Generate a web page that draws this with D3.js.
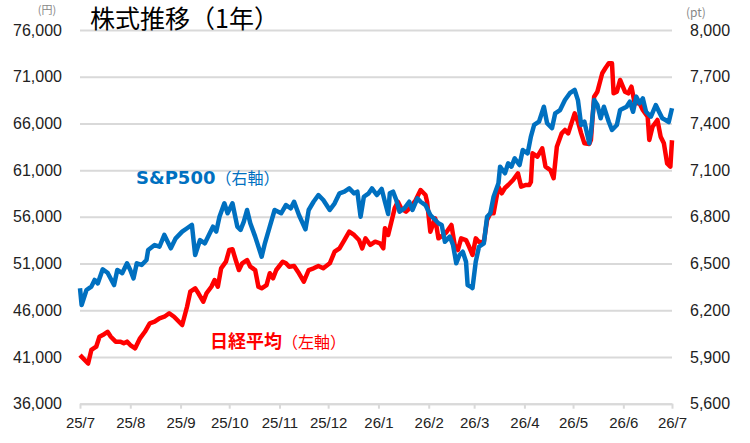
<!DOCTYPE html>
<html>
<head>
<meta charset="utf-8">
<script src="https://cdn.jsdelivr.net/npm/d3@7"></script>
<style>
  body { margin: 0; background: #fff; }
  svg { display: block; }
  .tick text { font-family: "Liberation Sans", Arial, sans-serif; fill: #222; }
</style>
</head>
<body>
<svg id="chart"></svg>
<script>
// 日経平均 (円)
const nikkei = [
  ["2025-07-01",41200],["2025-07-06",40300],["2025-07-08",41750],["2025-07-11",42100],
  ["2025-07-13",43170],["2025-07-15",43350],["2025-07-18",43700],["2025-07-20",43170],
  ["2025-07-23",42640],["2025-07-26",42640],["2025-07-28",42460],["2025-07-30",42640],
  ["2025-08-01",42280],["2025-08-04",41930],["2025-08-07",43000],["2025-08-10",43700],
  ["2025-08-13",44600],["2025-08-16",44780],["2025-08-19",45140],["2025-08-22",45310],
  ["2025-08-25",45680],["2025-08-28",45310],["2025-09-02",44420],["2025-09-05",46380],
  ["2025-09-07",47990],["2025-09-10",48350],["2025-09-12",47820],["2025-09-15",46920],
  ["2025-09-17",47820],["2025-09-20",48520],["2025-09-22",49240],["2025-09-24",48520],
  ["2025-09-26",50490],["2025-09-29",51200],["2025-10-01",52450],["2025-10-03",52530],
  ["2025-10-05",51380],["2025-10-07",50310],["2025-10-09",51030],["2025-10-12",51380],
  ["2025-10-14",50660],["2025-10-17",50310],["2025-10-19",48520],["2025-10-21",48350],
  ["2025-10-24",48700],["2025-10-26",49960],["2025-10-28",49420],["2025-10-30",50310],
  ["2025-11-03",51200],["2025-11-05",51030],["2025-11-07",50660],["2025-11-10",50740],
  ["2025-11-13",49960],["2025-11-16",49060],["2025-11-19",50310],["2025-11-22",50490],
  ["2025-11-25",50740],["2025-11-28",50490],["2025-12-02",51030],["2025-12-05",52270],
  ["2025-12-08",52630],["2025-12-11",53520],["2025-12-14",54410],["2025-12-17",54060],
  ["2025-12-20",53520],["2025-12-22",52630],["2025-12-24",53700],["2025-12-27",52990],
  ["2025-12-30",53340],["2026-01-02",53170],["2026-01-04",52630],["2026-01-05",54770],
  ["2026-01-07",54060],["2026-01-09",55480],["2026-01-11",56910],["2026-01-13",57620],
  ["2026-01-15",56910],["2026-01-18",56550],["2026-01-21",57050],["2026-01-24",57800],
  ["2026-01-27",58870],["2026-01-30",58340],["2026-01-31",57620],["2026-02-02",54410],
  ["2026-02-05",55840],["2026-02-07",53700],["2026-02-10",54060],["2026-02-12",54380],
  ["2026-02-15",55130],["2026-02-17",52990],["2026-02-19",52450],["2026-02-21",53700],
  ["2026-02-24",53520],["2026-02-26",52770],["2026-02-28",51920],["2026-03-02",53700],
  ["2026-03-04",53310],["2026-03-07",53310],["2026-03-09",55660],["2026-03-11",56380],
  ["2026-03-13",56380],["2026-03-16",59230],["2026-03-18",58520],["2026-03-20",59090],
  ["2026-03-22",59410],["2026-03-25",59940],["2026-03-28",60660],["2026-03-30",59230],
  ["2026-04-02",59410],["2026-04-04",59410],["2026-04-05",59730],["2026-04-06",62800],
  ["2026-04-09",62440],["2026-04-12",63340],["2026-04-14",61370],["2026-04-17",61010],
  ["2026-04-19",60130],["2026-04-21",63510],["2026-04-24",64940],["2026-04-26",65300],
  ["2026-04-28",64940],["2026-05-02",67080],["2026-05-04",66180],["2026-05-06",64940],
  ["2026-05-08",63870],["2026-05-11",63800],["2026-05-12",64230],["2026-05-14",68860],
  ["2026-05-16",69400],["2026-05-19",71370],["2026-05-21",71930],["2026-05-23",72440],
  ["2026-05-25",72440],["2026-05-26",69220],["2026-05-28",69400],["2026-05-30",70650],
  ["2026-06-02",69400],["2026-06-04",69220],["2026-06-06",69930],["2026-06-08",68150],
  ["2026-06-11",68150],["2026-06-13",67440],["2026-06-16",66720],["2026-06-17",64230],
  ["2026-06-19",65650],["2026-06-22",66370],["2026-06-24",64580],["2026-06-26",63870],
  ["2026-06-28",61730],["2026-06-30",61370],["2026-07-01",64200]
];

// S&P500 (pt)
const sp500 = [
  ["2025-07-01",6341],["2025-07-02",6234],["2025-07-05",6330],["2025-07-08",6352],
  ["2025-07-10",6395],["2025-07-12",6373],["2025-07-15",6463],["2025-07-18",6441],
  ["2025-07-22",6362],["2025-07-24",6459],["2025-07-27",6438],["2025-07-30",6502],
  ["2025-08-01",6459],["2025-08-03",6405],["2025-08-05",6502],["2025-08-08",6491],
  ["2025-08-11",6523],["2025-08-12",6587],["2025-08-16",6619],["2025-08-19",6608],
  ["2025-08-22",6684],["2025-08-26",6598],["2025-08-29",6662],["2025-09-02",6705],
  ["2025-09-05",6727],["2025-09-08",6748],["2025-09-10",6555],["2025-09-13",6651],
  ["2025-09-16",6630],["2025-09-19",6694],["2025-09-21",6737],["2025-09-23",6705],
  ["2025-09-25",6801],["2025-09-28",6887],["2025-09-30",6823],["2025-10-03",6887],
  ["2025-10-06",6737],["2025-10-08",6716],["2025-10-10",6769],["2025-10-12",6844],
  ["2025-10-14",6759],["2025-10-17",6673],["2025-10-21",6544],["2025-10-23",6630],
  ["2025-10-26",6737],["2025-10-29",6844],["2025-11-02",6823],["2025-11-05",6876],
  ["2025-11-08",6855],["2025-11-10",6897],["2025-11-13",6812],["2025-11-17",6720],
  ["2025-11-19",6844],["2025-11-22",6897],["2025-11-25",6940],["2025-11-28",6908],
  ["2025-12-02",6844],["2025-12-05",6887],["2025-12-08",6951],["2025-12-11",6962],
  ["2025-12-14",6983],["2025-12-17",6951],["2025-12-19",6962],["2025-12-21",6801],
  ["2025-12-23",6929],["2025-12-26",6951],["2025-12-28",6983],["2025-12-31",6940],
  ["2026-01-03",6979],["2026-01-05",6897],["2026-01-07",6818],["2026-01-08",6951],
  ["2026-01-10",6962],["2026-01-12",6908],["2026-01-14",6833],["2026-01-17",6855],
  ["2026-01-20",6897],["2026-01-22",6844],["2026-01-25",6919],["2026-01-27",6897],
  ["2026-01-30",6876],["2026-02-02",6812],["2026-02-04",6791],["2026-02-07",6759],
  ["2026-02-09",6748],["2026-02-11",6640],["2026-02-14",6673],["2026-02-16",6619],
  ["2026-02-18",6502],["2026-02-20",6555],["2026-02-22",6576],["2026-02-24",6512],
  ["2026-02-25",6362],["2026-02-27",6350],["2026-02-28",6343],["2026-03-02",6512],
  ["2026-03-04",6608],["2026-03-07",6630],["2026-03-09",6801],["2026-03-11",6823],
  ["2026-03-13",6929],["2026-03-16",7016],["2026-03-17",7122],["2026-03-20",7080],
  ["2026-03-22",7144],["2026-03-24",7122],["2026-03-26",7176],["2026-03-29",7133],
  ["2026-03-31",7229],["2026-04-03",7208],["2026-04-05",7315],["2026-04-07",7390],
  ["2026-04-10",7411],["2026-04-13",7507],["2026-04-15",7401],["2026-04-18",7369],
  ["2026-04-20",7465],["2026-04-23",7486],["2026-04-26",7550],["2026-04-29",7594],
  ["2026-05-02",7615],["2026-05-04",7550],["2026-05-06",7390],["2026-05-08",7411],
  ["2026-05-11",7272],["2026-05-12",7337],["2026-05-14",7550],["2026-05-16",7518],
  ["2026-05-18",7433],["2026-05-20",7507],["2026-05-23",7411],["2026-05-25",7358],
  ["2026-05-28",7390],["2026-05-30",7486],["2026-06-03",7507],["2026-06-05",7540],
  ["2026-06-07",7475],["2026-06-09",7572],["2026-06-11",7529],["2026-06-13",7561],
  ["2026-06-15",7475],["2026-06-18",7443],["2026-06-21",7518],["2026-06-23",7475],
  ["2026-06-25",7433],["2026-06-27",7422],["2026-06-29",7409],["2026-07-01",7497]
];

const monthTicks = ["2025-07-01","2025-08-01","2025-09-01","2025-10-01","2025-11-01",
  "2025-12-01","2026-01-01","2026-02-01","2026-03-01","2026-04-01","2026-05-01",
  "2026-06-01","2026-07-01"];
const leftTicks = [36000, 41000, 46000, 51000, 56000, 61000, 66000, 71000, 76000];
const rightTicks = [5600, 5900, 6200, 6500, 6800, 7100, 7400, 7700, 8000];

const width = 750, height = 443;
const margin = {top: 30, right: 78, bottom: 39.3, left: 80};
const parse = d3.timeParse("%Y-%m-%d");

const svg = d3.select("#chart")
    .attr("width", width)
    .attr("height", height);

const x = d3.scaleTime()
    .domain([parse(monthTicks[0]), parse(monthTicks[monthTicks.length - 1])])
    .range([margin.left, width - margin.right]);

const yLeft = d3.scaleLinear()
    .domain([leftTicks[0], leftTicks[leftTicks.length - 1]])
    .range([height - margin.bottom, margin.top]);

const yRight = d3.scaleLinear()
    .domain([rightTicks[0], rightTicks[rightTicks.length - 1]])
    .range([height - margin.bottom, margin.top]);

const gridColor = "#d9d9d9";

// gridlines
svg.append("g")
    .attr("transform", `translate(${margin.left},0)`)
    .call(d3.axisLeft(yLeft).tickValues(leftTicks)
        .tickSize(-(width - margin.left - margin.right)).tickFormat(""))
    .call(g => g.select(".domain").remove())
    .call(g => g.selectAll("line").attr("stroke", gridColor).attr("stroke-width", 2));

// x axis
svg.append("g")
    .attr("transform", `translate(0,${height - margin.bottom})`)
    .call(d3.axisBottom(x).tickValues(monthTicks.map(parse))
        .tickFormat(d3.timeFormat("%y/%-m")).tickSize(5).tickSizeOuter(0).tickPadding(9))
    .call(g => g.select(".domain").attr("stroke", gridColor).attr("stroke-width", 2))
    .call(g => g.selectAll(".tick line").attr("stroke", gridColor).attr("stroke-width", 2))
    .call(g => g.selectAll("text").attr("font-size", 15));

// left labels
svg.append("g")
    .attr("transform", `translate(${margin.left},0)`)
    .call(d3.axisLeft(yLeft).tickValues(leftTicks).tickSize(0).tickPadding(18)
        .tickFormat(d3.format(",")))
    .call(g => g.select(".domain").remove())
    .call(g => g.selectAll("text").attr("font-size", 16));

// right labels
svg.append("g")
    .attr("transform", `translate(${width - margin.right},0)`)
    .call(d3.axisRight(yRight).tickValues(rightTicks).tickSize(0).tickPadding(18)
        .tickFormat(d3.format(",")))
    .call(g => g.select(".domain").remove())
    .call(g => g.selectAll("text").attr("font-size", 16));

// lines
const lineLeft = d3.line()
    .x(d => x(parse(d[0])))
    .y(d => yLeft(d[1]));

const lineRight = d3.line()
    .x(d => x(parse(d[0])))
    .y(d => yRight(d[1]));

svg.append("path")
    .datum(nikkei)
    .attr("d", lineLeft)
    .attr("fill", "none")
    .attr("stroke", "#ff0000")
    .attr("stroke-width", 4.5)
    .attr("stroke-linejoin", "round");

svg.append("path")
    .datum(sp500)
    .attr("d", lineRight)
    .attr("fill", "none")
    .attr("stroke", "#0070c0")
    .attr("stroke-width", 4.5)
    .attr("stroke-linejoin", "round");

const cjk = "'Noto Sans CJK JP', 'Noto Sans', sans-serif";

// title
svg.append("text")
    .attr("x", 90).attr("y", 28)
    .attr("font-family", cjk)
    .attr("font-size", 25)
    .attr("fill", "#000")
    .text("株式推移（1年）");

// units
svg.append("text")
    .attr("x", 47).attr("y", 14)
    .attr("text-anchor", "middle")
    .attr("font-family", cjk)
    .attr("font-size", 11)
    .attr("fill", "#888")
    .text("(円)");

svg.append("text")
    .attr("x", 696).attr("y", 17)
    .attr("text-anchor", "middle")
    .attr("font-family", cjk)
    .attr("font-size", 12)
    .attr("fill", "#888")
    .text("(pt)");

// series labels
const spLabel = svg.append("text")
    .attr("x", 136).attr("y", 184)
    .attr("font-family", cjk)
    .attr("fill", "#0070c0");
spLabel.append("tspan").attr("font-weight", "bold").attr("font-size", 18)
    .attr("font-family", "'DejaVu Sans', sans-serif").text("S&P500");
spLabel.append("tspan").attr("font-size", 16).text("（右軸）");

const nkLabel = svg.append("text")
    .attr("x", 210).attr("y", 348)
    .attr("font-family", cjk)
    .attr("fill", "#ff0000");
nkLabel.append("tspan").attr("font-weight", "bold").attr("font-size", 18).text("日経平均");
nkLabel.append("tspan").attr("font-size", 16).text("（左軸）");
</script>
</body>
</html>
